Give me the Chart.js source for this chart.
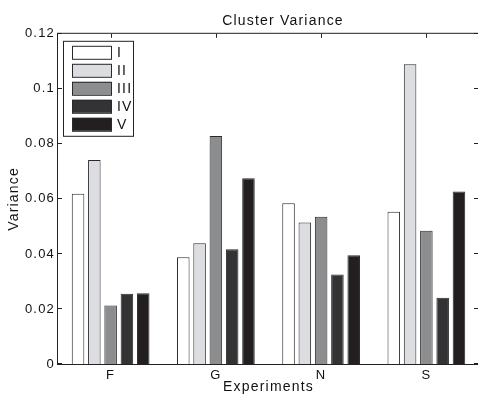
<!DOCTYPE html>
<html>
<head>
<meta charset="utf-8">
<script src="https://cdn.jsdelivr.net/npm/chart.js@4.4.0/dist/chart.umd.min.js"></script>
<style>
  html, body { margin: 0; padding: 0; background: #fff; overflow: hidden; }
</style>
</head>
<body>
<canvas id="chart" width="566" height="396"></canvas>
<script>
// data
const experiments = ['F', 'G', 'N', 'S'];
const clusters = ['I', 'II', 'III', 'IV', 'V'];
const clusterI   = [0.0619, 0.0388, 0.0584, 0.0553];
const clusterII  = [0.0741, 0.0439, 0.0514, 0.1089];
const clusterIII = [0.0213, 0.0829, 0.0535, 0.0484];
const clusterIV  = [0.0255, 0.0417, 0.0325, 0.0241];
const clusterV   = [0.0257, 0.0675, 0.0395, 0.0627];
const yTicks = ['0', '0.02', '0.04', '0.06', '0.08', '0.1', '0.12'];

const fills = ['#ffffff', '#dcdde0', '#8c8d8f', '#333234', '#231f20'];
const series = [clusterI, clusterII, clusterIII, clusterIV, clusterV];

Chart.defaults.font.family = "'Liberation Sans', Arial, sans-serif";
Chart.defaults.color = '#111';

// the matlab export has wide letter spacing
const spacing = {
    id: 'spacing',
    beforeUpdate(chart) { chart.ctx.letterSpacing = '1.2px'; },
    beforeDraw(chart) { chart.ctx.letterSpacing = '1.2px'; }
};

// matlab style box, inner ticks and legend
const axesBox = {
    id: 'axesBox',
    beforeDatasetsDraw(chart) {
        const {ctx, chartArea: a, scales: {x, y}} = chart;
        ctx.save();
        ctx.strokeStyle = '#222';
        ctx.lineWidth = 1;
        ctx.beginPath();
        y.ticks.forEach(t => {
            const py = Math.round(y.getPixelForValue(t.value)) - 0.5;
            ctx.moveTo(a.left, py); ctx.lineTo(a.left + 4, py);
            ctx.moveTo(a.right, py); ctx.lineTo(a.right - 5, py);
        });
        x.ticks.forEach((t, i) => {
            const px = Math.round(x.getPixelForTick(i)) + 0.5;
            ctx.moveTo(px, a.top); ctx.lineTo(px, a.top + 4);
            ctx.moveTo(px, a.bottom); ctx.lineTo(px, a.bottom - 4);
        });
        ctx.stroke();
        ctx.restore();
    },
    afterDatasetsDraw(chart) {
        const {ctx, chartArea: a} = chart;
        ctx.save();
        ctx.strokeStyle = '#222';
        ctx.lineWidth = 1;
        ctx.strokeRect(a.left - 0.5, a.top - 0.5, a.right - a.left + 1, a.bottom - a.top + 1);

        const lx = a.left + 5, ly = a.top + 7;
        ctx.fillStyle = '#fff';
        ctx.fillRect(lx, ly, 70, 95);
        ctx.strokeRect(lx + 0.5, ly + 0.5, 70, 95);
        ctx.font = "14px 'Liberation Sans', Arial, sans-serif";
        ctx.textBaseline = 'middle';
        chart.data.datasets.forEach((ds, i) => {
            const by = ly + 5 + i * 18;
            ctx.fillStyle = ds.backgroundColor;
            ctx.fillRect(lx + 9, by, 39, 13);
            ctx.strokeStyle = ds.borderColor;
            ctx.strokeRect(lx + 9.5, by + 0.5, 39, 13);
            ctx.fillStyle = '#111';
            ctx.fillText(ds.label, lx + 54, by + 7.5);
        });
        ctx.restore();
    }
};

new Chart(document.getElementById('chart'), {
    type: 'bar',
    data: {
        labels: experiments,
        datasets: clusters.map((name, i) => ({
            label: name,
            data: series[i],
            backgroundColor: fills[i],
            borderColor: '#2a2a2a',
            borderWidth: 1,
            categoryPercentage: 0.774,
            barPercentage: 0.77
        }))
    },
    options: {
        responsive: false,
        animation: false,
        layout: { padding: 0 },
        plugins: {
            legend: { display: false },
            tooltip: { enabled: false },
            title: {
                display: true,
                text: 'Cluster Variance',
                color: '#111',
                font: { size: 14, weight: 'normal' },
                padding: { top: 13, bottom: 4 }
            }
        },
        scales: {
            x: {
                grid: { display: false, drawTicks: false },
                border: { display: false },
                ticks: { padding: 4, font: { size: 13 } },
                title: {
                    display: true,
                    text: 'Experiments',
                    font: { size: 14 },
                    padding: { top: 0, bottom: 0 }
                },
                afterFit: s => { s.height = 32; }
            },
            y: {
                min: 0,
                max: 0.12,
                grid: { display: false, drawTicks: false },
                border: { display: false },
                ticks: {
                    stepSize: 0.02,
                    padding: 3,
                    font: { size: 13 },
                    callback: (v, i) => yTicks[i]
                },
                title: {
                    display: true,
                    text: 'Variance',
                    font: { size: 14 },
                    padding: { top: 6, bottom: 0 }
                },
                afterFit: s => { s.width = 58; }
            },
            // empty right axis: the figure is cut off past the right edge
            yRight: {
                position: 'right',
                grid: { display: false, drawTicks: false },
                border: { display: false },
                ticks: { display: false },
                afterFit: s => { s.width = 87; }
            }
        }
    },
    plugins: [spacing, axesBox]
});
</script>
</body>
</html>
